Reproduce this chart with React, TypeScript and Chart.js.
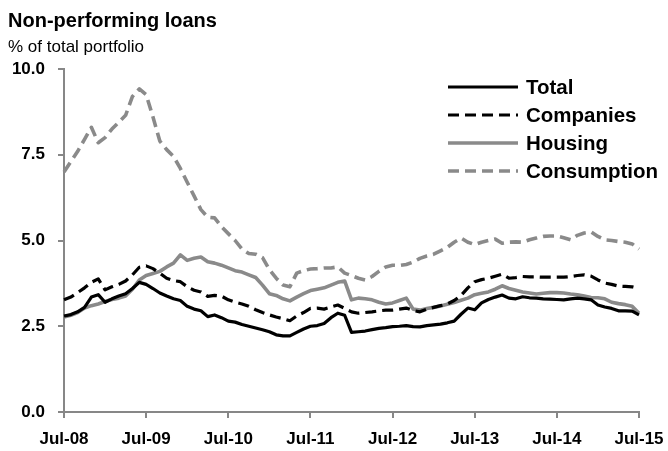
import React, { useEffect, useRef } from "react";
import { Chart, registerables } from "chart.js";

Chart.register(...registerables);

const TITLE = "Non-performing loans";
const SUBTITLE = "% of total portfolio";

const tickLabels = ["Jul-08", "Jul-09", "Jul-10", "Jul-11", "Jul-12", "Jul-13", "Jul-14", "Jul-15"];
const monthNames = ["Jul", "Aug", "Sep", "Oct", "Nov", "Dec", "Jan", "Feb", "Mar", "Apr", "May", "Jun"];

const seriesNames = ["Total", "Companies", "Housing", "Consumption"];

const total = [
  2.80, 2.84, 2.92, 3.05, 3.35, 3.42, 3.20, 3.30, 3.38, 3.45,
  3.60, 3.78, 3.72, 3.60, 3.47, 3.38, 3.30, 3.25, 3.08, 3.00,
  2.95, 2.78, 2.83, 2.75, 2.65, 2.62, 2.55, 2.50, 2.45, 2.40,
  2.34, 2.25, 2.22, 2.22, 2.32, 2.42, 2.50, 2.52, 2.58, 2.75,
  2.88, 2.82, 2.32, 2.34, 2.36, 2.40, 2.44, 2.46, 2.49, 2.50,
  2.52, 2.49, 2.48, 2.52, 2.54, 2.56, 2.60, 2.65, 2.85, 3.03,
  2.98, 3.18, 3.28, 3.35, 3.41, 3.32, 3.30, 3.36, 3.33, 3.32,
  3.30, 3.29, 3.28, 3.27, 3.30, 3.32, 3.30, 3.27, 3.12, 3.06,
  3.02, 2.95, 2.95, 2.94, 2.83,
];

const companies = [
  3.27, 3.35, 3.48, 3.62, 3.78, 3.88, 3.56, 3.65, 3.72, 3.82,
  4.00, 4.22, 4.26, 4.18, 4.05, 3.90, 3.83, 3.80, 3.65, 3.55,
  3.50, 3.37, 3.40, 3.38, 3.27, 3.20, 3.15, 3.08, 2.98, 2.90,
  2.83, 2.77, 2.72, 2.66, 2.80, 2.90, 3.02, 3.03, 3.00, 3.06,
  3.12, 3.02, 2.92, 2.88, 2.90, 2.92, 2.95, 2.97, 2.97, 3.00,
  3.03, 2.96, 2.92, 3.00, 3.05, 3.10, 3.15, 3.25, 3.40, 3.62,
  3.80, 3.86, 3.90, 3.96, 4.02, 3.90, 3.92, 3.95, 3.94, 3.94,
  3.93, 3.93, 3.93, 3.93, 3.95, 3.98, 4.00, 3.96, 3.85, 3.76,
  3.72, 3.67, 3.66, 3.65, 3.60,
];

const housing = [
  2.77, 2.82, 2.90, 3.03, 3.10, 3.15, 3.22, 3.28, 3.32, 3.38,
  3.58, 3.85, 3.98, 4.04, 4.10, 4.23, 4.34, 4.58, 4.42, 4.48,
  4.52, 4.38, 4.34, 4.28, 4.20, 4.12, 4.08, 4.00, 3.92, 3.70,
  3.45, 3.40, 3.30, 3.24, 3.35, 3.45, 3.54, 3.58, 3.62, 3.70,
  3.78, 3.82, 3.27, 3.32, 3.30, 3.27, 3.20, 3.15, 3.18, 3.25,
  3.32, 3.00, 2.97, 3.02, 3.05, 3.09, 3.14, 3.19, 3.26, 3.32,
  3.42, 3.46, 3.50, 3.58, 3.68, 3.60, 3.55, 3.50, 3.47, 3.44,
  3.46, 3.48, 3.48, 3.47, 3.44, 3.42, 3.38, 3.34, 3.33, 3.30,
  3.20, 3.16, 3.13, 3.08, 2.88,
];

const consumption = [
  7.00, 7.30, 7.60, 7.95, 8.30, 7.85, 8.00, 8.25, 8.45, 8.65,
  9.20, 9.42, 9.25, 8.60, 7.90, 7.65, 7.45, 7.10, 6.70, 6.30,
  5.90, 5.68, 5.66, 5.40, 5.20, 5.00, 4.75, 4.62, 4.60, 4.50,
  4.15, 3.90, 3.70, 3.65, 4.05, 4.12, 4.17, 4.18, 4.20, 4.20,
  4.23, 4.05, 3.98, 3.90, 3.85, 3.95, 4.10, 4.23, 4.28, 4.27,
  4.30, 4.37, 4.48, 4.55, 4.60, 4.70, 4.80, 4.95, 5.07, 4.95,
  4.88, 4.95, 5.00, 5.04, 4.92, 4.95, 4.96, 4.95, 5.02, 5.07,
  5.12, 5.13, 5.13, 5.08, 5.02, 5.15, 5.22, 5.25, 5.12, 5.02,
  5.00, 4.97, 4.95, 4.90, 4.75,
];

const yTicks = [0, 2.5, 5, 7.5, 10];

const categories: string[] = total.map((_, i) => {
  const yr = 8 + Math.floor((i + 6) / 12);
  return `${monthNames[i % 12]}-${String(yr).padStart(2, "0")}`;
});

const FONT = '"Liberation Sans", Arial, sans-serif';
const GRAY = "#8a8a8a";
const AXIS = "#878787";

const overlayPlugin = {
  id: "overlay",
  afterDraw(chart: any) {
    const ctx = chart.ctx;
    ctx.save();
    ctx.fillStyle = "#000";
    ctx.textBaseline = "alphabetic";
    ctx.textAlign = "left";
    ctx.font = `bold 20px ${FONT}`;
    ctx.fillText(TITLE, 8, 27);
    ctx.font = `17px ${FONT}`;
    ctx.fillText(SUBTITLE, 8, 52);

    // legend
    const lx = chart.chartArea.right - 191;
    chart.data.datasets.forEach((ds: any, k: number) => {
      const y = 87 + k * 28;
      ctx.beginPath();
      ctx.strokeStyle = ds.borderColor;
      ctx.lineWidth = ds.borderWidth;
      ctx.setLineDash(ds.borderDash || []);
      ctx.lineCap = "butt";
      ctx.moveTo(lx, y);
      ctx.lineTo(lx + 70, y);
      ctx.stroke();
      ctx.setLineDash([]);
      ctx.fillStyle = "#000";
      ctx.font = `bold 20.5px ${FONT}`;
      ctx.textBaseline = "middle";
      ctx.fillText(ds.label, lx + 78, y + 1);
    });
    ctx.restore();
  },
};

export default function App() {
  const ref = useRef<HTMLCanvasElement | null>(null);

  useEffect(() => {
    document.body.style.margin = "0";
    const canvas = ref.current;
    if (!canvas) return;
    const chart = new Chart(canvas, {
      type: "line",
      data: {
        labels: categories,
        datasets: [
          { label: seriesNames[0], data: total, borderColor: "#000000", borderWidth: 3.2, borderDash: [] },
          { label: seriesNames[1], data: companies, borderColor: "#000000", borderWidth: 3.2, borderDash: [11, 6] },
          { label: seriesNames[2], data: housing, borderColor: GRAY, borderWidth: 3.6, borderDash: [] },
          { label: seriesNames[3], data: consumption, borderColor: GRAY, borderWidth: 3.6, borderDash: [11, 6] },
        ].map((d) => ({ ...d, pointRadius: 0, tension: 0, fill: false, borderJoinStyle: "round" as const })),
      },
      options: {
        animation: false,
        responsive: false,
        devicePixelRatio: 1,
        layout: { padding: { left: 0, top: 69, right: 29, bottom: 0 } },
        plugins: { legend: { display: false }, title: { display: false }, tooltip: { enabled: false } },
        scales: {
          x: {
            type: "category",
            offset: false,
            afterFit: (s: any) => { s.height = 39; s.paddingLeft = 0; s.paddingRight = 0; },
            border: { display: true, color: AXIS, width: 2 },
            grid: {
              drawOnChartArea: false,
              drawTicks: true,
              tickLength: 6,
              lineWidth: 2,
              color: (c: any) => (c.index % 12 === 0 ? AXIS : "rgba(0,0,0,0)"),
            },
            ticks: {
              autoSkip: false,
              maxRotation: 0,
              minRotation: 0,
              padding: 11,
              color: "#000",
              font: { family: FONT, size: 17, weight: "bold" },
              callback: (_v: any, i: number) => (i % 12 === 0 ? tickLabels[i / 12] : ""),
            },
          },
          y: {
            min: 0,
            max: 10,
            afterFit: (s: any) => { s.width = 64; s.paddingTop = 0; s.paddingBottom = 0; },
            afterBuildTicks: (s: any) => { s.ticks = yTicks.map((v) => ({ value: v })); },
            border: { display: true, color: AXIS, width: 2 },
            grid: { drawOnChartArea: false, drawTicks: true, tickLength: 6, lineWidth: 2, color: AXIS },
            ticks: {
              padding: 13,
              color: "#000",
              font: { family: FONT, size: 17, weight: "bold" },
              callback: (v: any) => Number(v).toFixed(1),
            },
          },
        },
      },
      plugins: [overlayPlugin],
    });
    return () => chart.destroy();
  }, []);

  return (
    <div style={{ width: 668, height: 451 }}>
      <canvas ref={ref} width={668} height={451} style={{ display: "block" }} />
    </div>
  );
}
